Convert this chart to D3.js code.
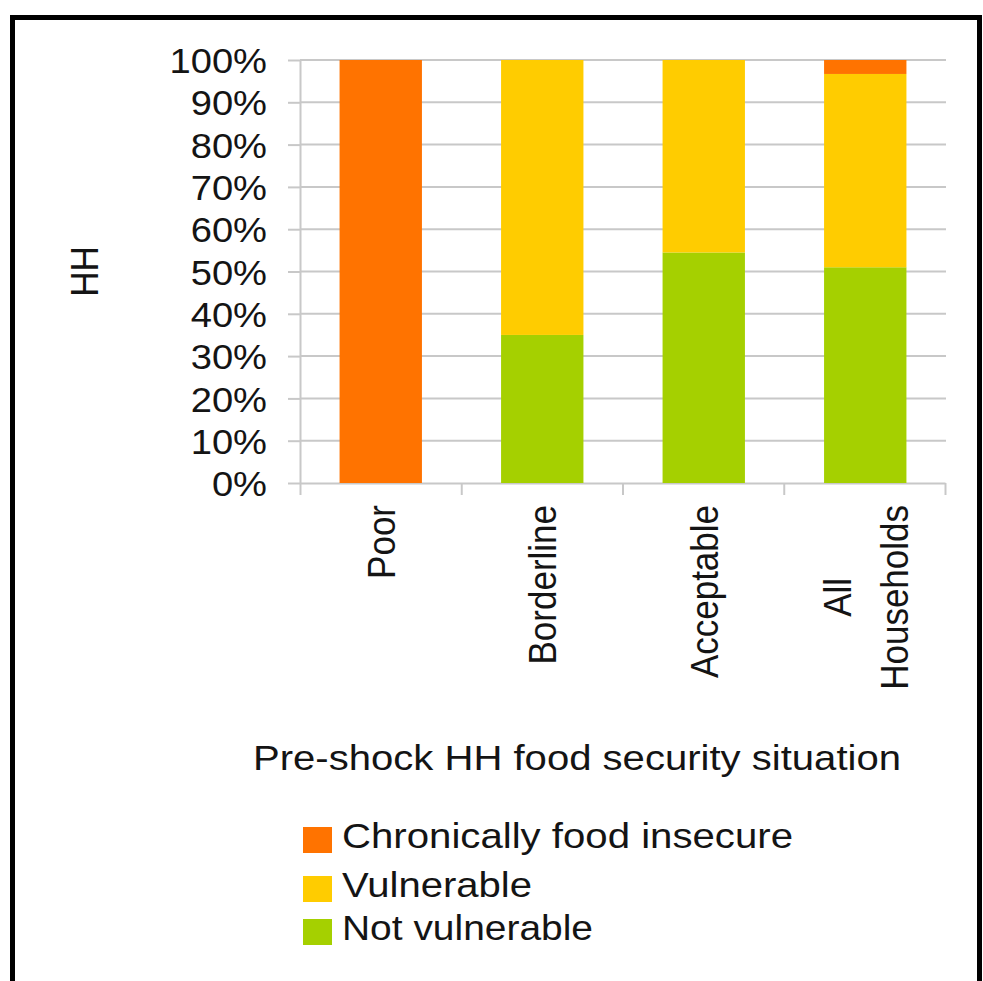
<!DOCTYPE html>
<html>
<head>
<meta charset="utf-8">
<script src="https://cdn.jsdelivr.net/npm/d3@7"></script>
<style>
  html, body { margin: 0; padding: 0; background: #fff; }
  svg text { font-family: "Liberation Sans", Arial, sans-serif; fill: #141414; }
</style>
</head>
<body>
<div id="chart"></div>
<script>
// data
const categories = ["Poor", "Borderline", "Acceptable", "All Households"];
const categoryLines = [["Poor"], ["Borderline"], ["Acceptable"], ["All", "Households"]];
const seriesNames = ["Not vulnerable", "Vulnerable", "Chronically food insecure"];
const notVulnerable = [0, 0.35, 0.545, 0.51];
const vulnerable = [0, 0.65, 0.455, 0.457];
const chronic = [1, 0, 0, 0.033];
const yTicks = [0, 0.1, 0.2, 0.3, 0.4, 0.5, 0.6, 0.7, 0.8, 0.9, 1];
const legendOrder = ["Chronically food insecure", "Vulnerable", "Not vulnerable"];

const colors = {
    "Chronically food insecure": "#ff7300",
    "Vulnerable": "#ffcc00",
    "Not vulnerable": "#a5d000"
};

const W = 983, H = 981;
const FS = 35;       // font size
const SX = 1.13;     // the source text looks stretched sideways
const gridColor = "#c8c8c8";

const plot = {left: 300, right: 946, top: 60, bottom: 483};

const svg = d3.select("#chart").append("svg")
    .attr("width", W).attr("height", H);

// outer frame (no bottom edge, it runs off the picture)
svg.append("path")
    .attr("d", `M12.5,${H} L12.5,17.5 L979.5,17.5 L979.5,${H}`)
    .attr("fill", "none").attr("stroke", "#000").attr("stroke-width", 5);

// stack the table
const table = categories.map((c, i) => ({
    cat: c,
    "Not vulnerable": notVulnerable[i],
    "Vulnerable": vulnerable[i],
    "Chronically food insecure": chronic[i]
}));
const stacked = d3.stack().keys(seriesNames)(table);

const x = d3.scaleBand().domain(categories)
    .range([plot.left, plot.right])
    .paddingInner(0.49).paddingOuter(0.245);
const y = d3.scaleLinear().domain([0, 1]).range([plot.bottom, plot.top]);
// boundaries between categories, for the x ticks
const xEdge = d3.scaleLinear().domain([0, categories.length]).range([plot.left, plot.right - 1]);

// gridlines
svg.append("g").selectAll("line").data(yTicks.filter(d => d > 0)).join("line")
    .attr("x1", plot.left).attr("x2", plot.right)
    .attr("y1", d => y(d)).attr("y2", d => y(d))
    .attr("stroke", gridColor).attr("stroke-width", 2);

// y axis
const yAxis = svg.append("g")
    .attr("transform", `translate(${plot.left},0)`)
    .call(d3.axisLeft(y).tickValues(yTicks).tickSize(12).tickSizeOuter(0).tickFormat(d3.format(".0%")));
yAxis.select(".domain").attr("stroke", gridColor).attr("stroke-width", 2);
yAxis.selectAll(".tick line").attr("stroke", gridColor).attr("stroke-width", 2);
yAxis.selectAll(".tick text")
    .attr("font-size", FS)
    .attr("font-family", null)
    .attr("x", -33 / 1.09)
    .attr("dy", "0.36em")
    .attr("transform", "scale(1.09,1)");

// x axis (ticks at category edges, labels drawn separately)
const xAxis = svg.append("g")
    .attr("transform", `translate(0,${plot.bottom})`)
    .call(d3.axisBottom(xEdge).ticks(categories.length).tickSize(12).tickSizeOuter(0).tickFormat(""));
xAxis.select(".domain").attr("stroke", gridColor).attr("stroke-width", 2);
xAxis.selectAll(".tick line").attr("stroke", gridColor).attr("stroke-width", 2);

// bars
svg.append("g").selectAll("g").data(stacked).join("g")
    .attr("fill", d => colors[d.key])
    .selectAll("rect").data(d => d).join("rect")
    .attr("x", d => x(d.data.cat))
    .attr("width", x.bandwidth())
    .attr("y", d => y(d[1]))
    .attr("height", d => y(d[0]) - y(d[1]));

// category labels, rotated
const labelTop = 505;
categories.forEach((c, i) => {
    const lines = categoryLines[i];
    const cx = x(c) + x.bandwidth() / 2;
    const gap = 57 / SX;
    const t = svg.append("text")
        .attr("transform", `translate(${cx},${labelTop}) scale(${SX},1) rotate(-90)`)
        .attr("font-size", FS);
    const spans = lines.map((ln, k) => t.append("tspan")
        .attr("x", 0)
        .attr("y", (k - (lines.length - 1) / 2) * gap)
        .attr("dy", "0.36em")
        .text(ln));
    if (lines.length === 1) {
        t.attr("text-anchor", "end");
    } else {
        const maxLen = d3.max(spans, s => s.node().getComputedTextLength());
        t.attr("text-anchor", "middle");
        spans.forEach(s => s.attr("x", -maxLen / 2));
    }
});

// axis titles
svg.append("text")
    .attr("transform", `translate(98,${(plot.top + plot.bottom) / 2}) scale(${SX},1) rotate(-90)`)
    .attr("text-anchor", "middle")
    .attr("font-size", FS)
    .text("HH");

svg.append("text")
    .attr("x", 253).attr("y", 770)
    .attr("font-size", FS)
    .attr("textLength", 648).attr("lengthAdjust", "spacingAndGlyphs")
    .text("Pre-shock HH food security situation");

// legend
const legendBase = [848, 897, 940];
const legendWidth = [451, 190, 251];
const legend = svg.append("g").selectAll("g").data(legendOrder).join("g");
legend.append("rect")
    .attr("x", 303).attr("width", 29)
    .attr("y", (d, i) => legendBase[i] - 21).attr("height", 26)
    .attr("fill", d => colors[d]);
legend.append("text")
    .attr("x", 342).attr("y", (d, i) => legendBase[i])
    .attr("font-size", FS)
    .attr("textLength", (d, i) => legendWidth[i]).attr("lengthAdjust", "spacingAndGlyphs")
    .text(d => d);
</script>
</body>
</html>
